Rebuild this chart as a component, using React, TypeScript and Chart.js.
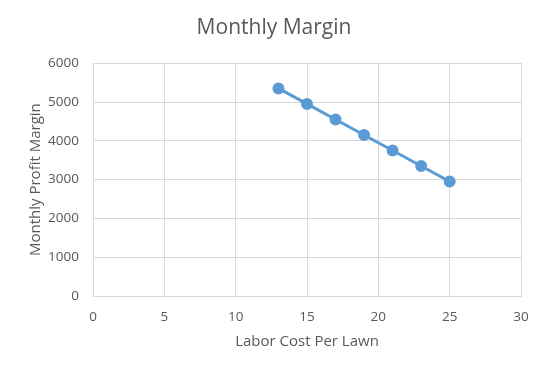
import React, { useEffect, useRef } from "react";
import { Chart, registerables } from "chart.js";

Chart.register(...registerables);

const laborCost = [13, 15, 17, 19, 21, 23, 25];
const profitMargin = [5350, 4950, 4550, 4150, 3750, 3350, 2950];
const chartTitle = "Monthly Margin";
const xTitle = "Labor Cost Per Lawn";
const yTitle = "Monthly Profit Margin";

const FONT = "'Open Sans', sans-serif";

export default function App() {
  const ref = useRef<HTMLCanvasElement | null>(null);
  useEffect(() => {
    document.body.style.margin = "0";
    const ctx = ref.current!;
    const chart = new Chart(ctx, {
      type: "scatter",
      data: {
        datasets: [
          {
            data: laborCost.map((x, i) => ({ x, y: profitMargin[i] })),
            showLine: true,
            borderColor: "#5b9bd5",
            backgroundColor: "#5b9bd5",
            borderWidth: 3,
            pointRadius: 4.5,
            pointHoverRadius: 4.5,
          },
        ],
      },
      options: {
        animation: false,
        responsive: false,
        layout: { padding: { left: 27, right: 27, top: 0, bottom: 0 } },
        plugins: {
          legend: { display: false },
          tooltip: { enabled: false },
          title: {
            display: true,
            text: chartTitle,
            color: "#595959",
            font: { family: FONT, size: 21, weight: "normal", lineHeight: 1.2 },
            padding: { top: 15, bottom: 23 },
          },
        },
        scales: {
          x: {
            type: "linear",
            min: 0,
            max: 30,
            ticks: {
              stepSize: 5,
              color: "#595959",
              font: { family: FONT, size: 13.5 },
              padding: 13,
              callback: (v: any) => String(v),
            },
            grid: { color: "#d9d9d9", drawTicks: false, lineWidth: 1 },
            border: { color: "#d9d9d9" },
            title: {
              display: true,
              text: xTitle,
              color: "#595959",
              font: { family: FONT, size: 15, lineHeight: 1.2 },
              padding: { top: 0, bottom: 20 },
            },
            afterFit: (s: any) => {
              s.height = 75;
            },
          },
          y: {
            type: "linear",
            min: 0,
            max: 6000,
            ticks: {
              stepSize: 1000,
              color: "#595959",
              font: { family: FONT, size: 13.5 },
              padding: 14,
              callback: (v: any) => String(v),
            },
            grid: { color: "#d9d9d9", drawTicks: false, lineWidth: 1 },
            border: { color: "#d9d9d9" },
            title: {
              display: true,
              text: yTitle,
              color: "#595959",
              font: { family: FONT, size: 15, lineHeight: 1.2 },
              padding: { top: 0, bottom: 0 },
            },
            afterFit: (s: any) => {
              s.width = 66;
            },
          },
        },
      },
    });
    return () => chart.destroy();
  }, []);
  return (
    <div style={{ width: 548, height: 371, background: "#fff" }}>
      <canvas ref={ref} width={548} height={371} style={{ display: "block" }} />
    </div>
  );
}
